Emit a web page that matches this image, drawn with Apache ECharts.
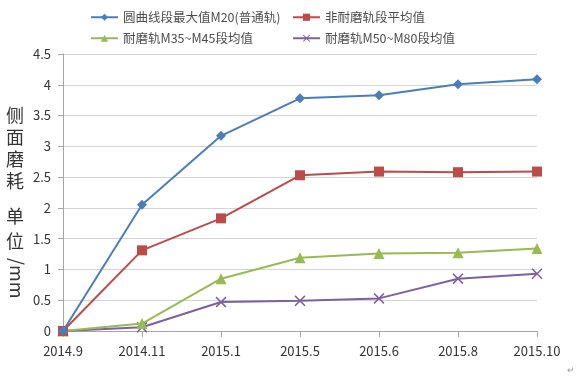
<!DOCTYPE html>
<html><head><meta charset="utf-8">
<script src="https://cdn.jsdelivr.net/npm/echarts@6/dist/echarts.min.js"></script>
<style>html,body{margin:0;padding:0;background:#fff}#c{width:583px;height:386px}</style>
</head><body><div id="c"></div>
<script>
const categories = ['2014.9','2014.11','2015.1','2015.5','2015.6','2015.8','2015.10'];
const seriesNames = ['圆曲线段最大值M20(普通轨)','非耐磨轨段平均值','耐磨轨M35~M45段均值','耐磨轨M50~M80段均值'];
const blueValues = [0, 2.05, 3.17, 3.78, 3.83, 4.01, 4.09];
const redValues = [0, 1.31, 1.83, 2.53, 2.59, 2.58, 2.59];
const greenValues = [0, 0.12, 0.85, 1.19, 1.26, 1.27, 1.34];
const purpleValues = [0, 0.06, 0.47, 0.49, 0.53, 0.85, 0.93];
const yTicks = [0, 0.5, 1, 1.5, 2, 2.5, 3, 3.5, 4, 4.5];

const FONT = '"Noto Sans CJK SC", "Noto Sans", sans-serif';
const colors = ['#4a7ebb', '#be4b48', '#98b954', '#7d60a0'];
const xPath = 'path://M0,1L1,0L5,4L9,0L10,1L6,5L10,9L9,10L5,6L1,10L0,9L4,5Z';
const symbols = ['diamond', 'rect', 'triangle', xPath];
const symbolSizes = [10, 10, 11, 11];
const dataSets = [blueValues, redValues, greenValues, purpleValues];
const legendPos = [[85, 6], [287, 6], [85, 27], [287, 27]];

const chart = echarts.init(document.getElementById('c'));
chart.setOption({
  animation: false,
  backgroundColor: '#fff',
  grid: { left: 63, right: 46, top: 54, bottom: 55, containLabel: false },
  legend: seriesNames.map((n, i) => ({
    data: [n], left: legendPos[i][0], top: legendPos[i][1],
    itemWidth: 27, itemHeight: 9, itemGap: 4,
    textStyle: { fontFamily: FONT, fontSize: 12.5, color: '#4d4d4d' }
  })),
  xAxis: {
    type: 'category', data: categories, boundaryGap: false,
    axisLine: { lineStyle: { color: '#a6a6a6', width: 1 } },
    axisTick: { show: true, length: 6, inside: false, alignWithLabel: true, lineStyle: { color: '#a6a6a6' } },
    axisLabel: { fontFamily: FONT, fontSize: 13, color: '#333', margin: 14 },
    splitLine: { show: false }
  },
  yAxis: {
    type: 'value', min: yTicks[0], max: yTicks[yTicks.length - 1], interval: 0.5,
    axisLine: { show: true, lineStyle: { color: '#a6a6a6' } },
    axisTick: { show: true, length: 5, lineStyle: { color: '#a6a6a6' } },
    axisLabel: { fontFamily: FONT, fontSize: 13, color: '#333', margin: 12 },
    splitLine: { show: true, lineStyle: { color: '#d4d4d4', width: 1 } }
  },
  series: seriesNames.map((n, i) => ({
    name: n, type: 'line', data: dataSets[i],
    symbol: symbols[i], symbolSize: symbolSizes[i], showSymbol: true,
    lineStyle: { color: colors[i], width: 2 },
    itemStyle: { color: colors[i] },
    z: 10 - i
  })),
  graphic: [
    { type: 'text', left: 6, top: 104, style: { text: '侧\n面\n磨\n耗', font: '18px ' + FONT, fill: '#333', lineHeight: 22 } },
    { type: 'text', left: 6, top: 204, style: { text: '单\n位', font: '18px ' + FONT, fill: '#333', lineHeight: 25 } },
    { type: 'text', x: 26, y: 258, rotation: -Math.PI / 2, style: { text: '/mm', font: '18px ' + FONT, fill: '#333' } },
    { type: 'text', left: 567, top: 365, style: { text: '↵', font: '9px ' + FONT, fill: '#999' } }
  ]
});
</script></body></html>
